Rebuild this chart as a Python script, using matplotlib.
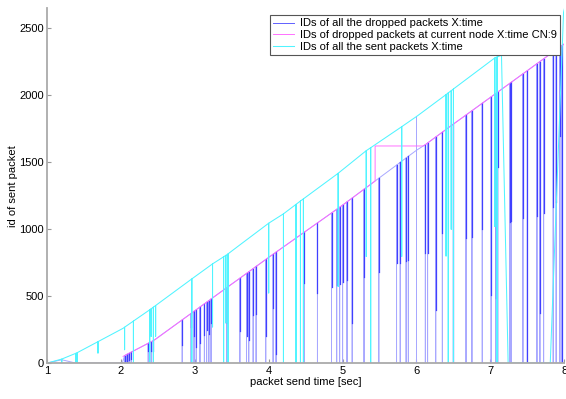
import numpy as np
import matplotlib
matplotlib.use("Agg")
import matplotlib.pyplot as plt

plt.rcParams['font.family'] = ['Liberation Sans', 'DejaVu Sans']

# IDs of all the sent packets: corners of the upper curve
SENT_T = [1.0, 1.2, 1.4, 1.69, 2.03, 2.39, 2.96, 3.24, 3.43, 3.61, 4.0, 4.2,
          4.45, 4.94, 5.32, 5.80, 6.01, 6.45, 7.06, 7.15, 7.24, 7.81, 7.99, 8.0]
SENT_ID = [0, 30, 75, 160, 260, 398, 629, 741, 808, 883, 1045, 1115,
           1219, 1418, 1587, 1766, 1846, 2027, 2280, 2300, 0, 0, 2620, 2645]
# sent packets: vertical drops (time, id at top, id at bottom)
SENT_SPIKE_T = [1.2, 1.39, 1.41, 1.69, 2.05, 2.17, 2.39, 2.41, 2.44, 2.47,
                2.96, 3.24, 3.39, 3.42, 3.45, 4.0, 4.2, 4.37, 4.43, 4.47,
                4.94, 5.32, 5.38, 5.80, 6.40, 6.43, 6.47, 6.50, 7.06, 7.09]
SENT_SPIKE_TOP = [30, 73, 78, 160, 268, 314, 398, 406, 418, 430,
                  629, 741, 794, 805, 816, 1045, 1115, 1186, 1211, 1227,
                  1418, 1587, 1609, 1766, 2006, 2019, 2035, 2048, 2280, 2287]
SENT_SPIKE_LOW = [0, 0, 0, 75, 100, 0, 0, 200, 0, 200,
                  0, 270, 0, 300, 0, 524, 0, 0, 0, 0,
                  572, 796, 0, 796, 800, 0, 1000, 0, 1020, 0]

# IDs of dropped packets at current node (CN:9)
NODE_T = [2.03, 2.46, 2.83, 3.61, 4.0, 5.0, 5.44, 5.44, 6.09, 6.12, 6.45, 7.0, 8.0]
NODE_ID = [50, 174, 323, 634, 790, 1180, 1360, 1622, 1622, 1632, 1766, 1985, 2385]

# IDs of all the dropped packets: path corners
DROP_T = [1.0, 1.2, 1.39, 2.02, 5.44, 6.0, 6.0, 6.0, 6.0, 8.0]
DROP_ID = [0, 25, 0, 0, 1360, 1590, 1843, 0, 1590, 2385]
# dropped packets: vertical drops to 0 (time, id at top, end of dense part)
DROP_SPIKE_T = [2.05, 2.08, 2.11, 2.14, 2.37, 2.41, 2.44,
                2.83, 2.95, 2.99, 3.02, 3.07, 3.13, 3.16, 3.19, 3.22,
                3.43, 3.61, 3.70, 3.73, 3.79, 3.83, 3.96, 4.06, 4.10,
                4.48, 4.66, 4.85, 4.92, 4.96, 5.0, 5.06, 5.13, 5.29,
                5.49, 5.73, 5.78, 5.86, 5.89, 6.12, 6.15, 6.26, 6.35,
                6.50, 6.67, 6.75, 6.89, 7.01, 7.07, 7.10, 7.26, 7.28,
                7.44, 7.50, 7.63, 7.67, 7.72, 7.85, 7.89, 7.94, 7.97]
DROP_SPIKE_TOP = [56, 65, 73, 82, 148, 160, 168,
                  323, 371, 387, 399, 419, 443, 455, 467, 479,
                  563, 634, 670, 682, 706, 722, 774, 813, 829,
                  977, 1047, 1121, 1149, 1164, 1180, 1205, 1233, 1299,
                  1381, 1479, 1500, 1533, 1545, 1632, 1644, 1689, 1725,
                  1786, 1853, 1885, 1941, 1989, 2013, 2025, 2089, 2097,
                  2161, 2185, 2237, 2253, 2273, 2325, 2341, 2361, 2373]
DROP_SPIKE_DARK = [0, 0, 20, 30, 87, 90, 90,
                   137, 273, 200, 120, 150, 210, 250, 220, 300,
                   300, 240, 200, 174, 360, 370, 199, 413, 70,
                   597, 522, 572, 580, 590, 609, 620, 298, 646,
                   683, 746, 750, 760, 771, 821, 821, 398, 972,
                   0, 935, 945, 1000, 510, 490, 1467, 1057, 1060,
                   1082, 0, 1100, 375, 1120, 1168, 1200, 1700, 0]

X_TICKS = [1, 2, 3, 4, 5, 6, 7, 8]
Y_TICKS = [0, 500, 1000, 1500, 2000, 2500]
LABELS = ["IDs of all the dropped packets X:time",
          "IDs of dropped packets at current node X:time CN:9",
          "IDs of all the sent packets X:time"]


def build_path(knot_t, knot_id, spike_t, spike_top, spike_low):
    """merge corners and vertical drops into one path, in time order"""
    pieces = [(t, [v]) for t, v in zip(knot_t, knot_id)]
    pieces += [(t, [a, b, a]) for t, a, b in zip(spike_t, spike_top, spike_low)]
    pieces.sort(key=lambda p: p[0])
    xs, ys = [], []
    for t, vals in pieces:
        xs += [t] * len(vals)
        ys += vals
    return xs, ys


def build_segments(spike_t, spike_top, spike_end):
    xs, ys = [], []
    for t, a, b in zip(spike_t, spike_top, spike_end):
        xs += [t, t, np.nan]
        ys += [a, b, np.nan]
    return xs, ys


fig = plt.figure(figsize=(5.66, 3.99), dpi=100)
ax = fig.add_axes([0.083, 0.090, 0.914, 0.889])

drop_x, drop_y = build_path(DROP_T, DROP_ID, DROP_SPIKE_T, DROP_SPIKE_TOP,
                            [0] * len(DROP_SPIKE_T))
dark_x, dark_y = build_segments(DROP_SPIKE_T, DROP_SPIKE_TOP, DROP_SPIKE_DARK)
sent_x, sent_y = build_path(SENT_T, SENT_ID, SENT_SPIKE_T, SENT_SPIKE_TOP,
                            SENT_SPIKE_LOW)

l1, = ax.plot(drop_x, drop_y, color='#a8a8ff', lw=0.7)
ax.plot(dark_x, dark_y, color='#4040ff', lw=0.9)
l2, = ax.plot(NODE_T, NODE_ID, color='#ff66ff', lw=0.65)
l3, = ax.plot(sent_x, sent_y, color='#50f4ff', lw=0.75)

ax.set_xlim(1, 8)
ax.set_ylim(0, 2650)
ax.set_xticks(X_TICKS)
ax.set_yticks(Y_TICKS)
ax.tick_params(direction='in', length=3, color='#999999', labelsize=8,
               pad=2)
for side in ['top', 'right']:
    ax.spines[side].set_visible(False)
for side in ['left', 'bottom']:
    ax.spines[side].set_color('#aaaaaa')
    ax.spines[side].set_linewidth(1.3)

ax.set_xlabel('packet send time [sec]', fontsize=8, labelpad=1)
ax.set_ylabel('id of sent packet', fontsize=8, labelpad=1)

leg = ax.legend([l1, l2, l3], LABELS, loc='upper right',
                bbox_to_anchor=(0.992, 0.981), borderaxespad=0, fontsize=8,
                fancybox=False, framealpha=1, edgecolor='#555555',
                handlelength=1.9, handletextpad=0.5, labelspacing=0.15,
                borderpad=0.3)
leg.get_frame().set_linewidth(0.8)
leg.get_lines()[0].set_color('#6060ff')

fig.savefig('out.png', dpi=100)
